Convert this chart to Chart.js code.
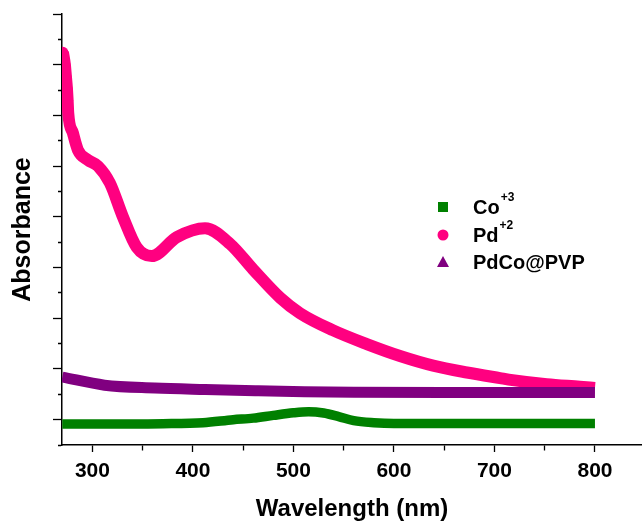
<!DOCTYPE html>
<html>
<head>
<meta charset="utf-8">
<script src="https://cdn.jsdelivr.net/npm/chart.js@4.4.0/dist/chart.umd.min.js"></script>
<style>
  html, body { margin: 0; padding: 0; background: #fff; }
  #wrap { width: 642px; height: 524px; }
</style>
</head>
<body>
<div id="wrap"><canvas id="uv"></canvas></div>
<script>
// series names (legend) and x tick labels
var seriesNames = ["Co+3", "Pd+2", "PdCo@PVP"];
var xTickLabels = [300, 400, 500, 600, 700, 800];

// Pd+2 spectrum
var pdWl  = [270.6, 272.6, 273.6, 274.6, 275.3, 275.9, 280.6, 285.6, 295.5, 305.5, 317.4, 330.3, 344, 359, 384, 412, 437, 460, 487, 506.5, 539, 573, 606, 639, 672.6, 705.5, 718, 752, 785, 800];
var pdAbs = [1.449, 1.399, 1.353, 1.307, 1.26, 1.21, 1.13, 1.063, 1.024, 1.0, 0.933, 0.80, 0.68, 0.645, 0.72, 0.755, 0.693, 0.592, 0.48, 0.42, 0.353, 0.298, 0.251, 0.213, 0.186, 0.164, 0.156, 0.140, 0.130, 0.125];

// Co+3 spectrum
var coWl  = [270, 320, 370, 410, 440, 460, 480, 500, 515, 530, 545, 560, 580, 600, 700, 800];
var coAbs = [-0.017, -0.017, -0.016, -0.012, 0.0, 0.006, 0.017, 0.027, 0.031, 0.026, 0.012, -0.004, -0.012, -0.015, -0.015, -0.015];

// PdCo@PVP spectrum
var pvpWl  = [270, 312, 362, 412, 462, 511, 560, 650, 750, 800];
var pvpAbs = [0.168, 0.136, 0.125, 0.119, 0.114, 0.110, 0.108, 0.107, 0.107, 0.107];

var FONT = "'Liberation Sans', Arial, sans-serif";

function pts(xs, ys) {
  return xs.map(function (x, i) { return { x: x, y: ys[i] }; });
}

// legend drawn inside the plot, with superscripts
var legendPlugin = {
  id: 'uvLegend',
  afterDraw: function (chart) {
    var ctx = chart.ctx;
    var ca = chart.chartArea;
    var mx = ca.left + 381, tx = ca.left + 411;
    var rows = [ca.top + 193, ca.top + 221, ca.top + 248];
    var labels = [["Co", "+3"], ["Pd", "+2"], ["PdCo@PVP", ""]];
    var colors = ["#008000", "#ff0080", "#800080"];
    ctx.save();
    // markers
    ctx.fillStyle = colors[0];
    ctx.fillRect(mx - 5, rows[0] - 5, 10, 10);
    ctx.fillStyle = colors[1];
    ctx.beginPath(); ctx.arc(mx, rows[1], 5.5, 0, Math.PI * 2); ctx.fill();
    ctx.fillStyle = colors[2];
    ctx.beginPath();
    ctx.moveTo(mx, rows[2] - 6); ctx.lineTo(mx + 6, rows[2] + 5); ctx.lineTo(mx - 6, rows[2] + 5);
    ctx.closePath(); ctx.fill();
    // text
    ctx.fillStyle = "#000";
    ctx.textBaseline = "alphabetic";
    ctx.textAlign = "left";
    for (var i = 0; i < labels.length; i++) {
      var base = rows[i] + 7;
      ctx.font = "bold 20px " + FONT;
      ctx.fillText(labels[i][0], tx, base);
      if (labels[i][1]) {
        var w = ctx.measureText(labels[i][0]).width;
        ctx.font = "bold 12px " + FONT;
        ctx.fillText(labels[i][1], tx + w + 1, base - 13);
      }
    }
    ctx.restore();
  }
};

function isMajorY(v) { return Math.round(v * 10) % 2 === 0; }

var ctxEl = document.getElementById("uv");
var uvChart = new Chart(ctxEl, {
  type: 'scatter',
  data: {
    datasets: [{
      label: seriesNames[0],
      data: pts(coWl, coAbs),
      borderColor: '#008000',
      backgroundColor: '#008000',
      showLine: true,
      borderWidth: 9.5,
      pointRadius: 0,
      cubicInterpolationMode: 'monotone',
      order: 2
    }, {
      label: seriesNames[1],
      data: pts(pdWl, pdAbs),
      borderColor: '#ff0080',
      backgroundColor: '#ff0080',
      showLine: true,
      borderWidth: 12,
      pointRadius: function (c) { return c.dataIndex < 5 ? 5.5 : 0; },
      pointBorderWidth: 0,
      cubicInterpolationMode: 'monotone',
      order: 1
    }, {
      label: seriesNames[2],
      data: pts(pvpWl, pvpAbs),
      borderColor: '#800080',
      backgroundColor: '#800080',
      showLine: true,
      borderWidth: 11,
      pointRadius: 0,
      cubicInterpolationMode: 'monotone',
      order: 0
    }]
  },
  options: {
    responsive: true,
    maintainAspectRatio: false,
    animation: false,
    layout: { autoPadding: false, padding: { top: 14, right: 0, left: 0, bottom: 0 } },
    plugins: {
      legend: { display: false },
      tooltip: { enabled: false }
    },
    scales: {
      x: {
        type: 'linear',
        min: 269.7,
        max: 846.8,
        border: { color: '#000', width: 1.5 },
        grid: {
          drawOnChartArea: false,
          tickColor: '#000',
          tickWidth: 1.3,
          tickLength: 7,
          tickBorderDash: function (c) {
            return (c.tick && c.tick.value % 100 !== 0) ? [5, 100] : [];
          }
        },
        ticks: {
          stepSize: 50,
          includeBounds: false,
          autoSkip: false,
          maxRotation: 0,
          padding: 7,
          color: '#000',
          font: { family: FONT, size: 21, weight: 'bold' },
          callback: function (v) { return xTickLabels.indexOf(v) >= 0 ? String(v) : ''; }
        },
        title: {
          display: true,
          text: 'Wavelength (nm)',
          color: '#000',
          font: { family: FONT, size: 24, weight: 'bold' },
          padding: { top: 0, bottom: 0 }
        },
        afterFit: function (s) { s.height = 79; s.paddingLeft = 0; s.paddingRight = 0; }
      },
      y: {
        type: 'linear',
        min: -0.1,
        max: 1.6,
        border: { color: '#000', width: 1.5 },
        grid: {
          drawOnChartArea: false,
          tickColor: '#000',
          tickWidth: 1.3,
          tickLength: 9,
          tickBorderDash: function (c) {
            return (c.tick && !isMajorY(c.tick.value)) ? [0, 5, 4, 100] : [];
          }
        },
        ticks: { stepSize: 0.1, display: false },
        title: {
          display: true,
          text: 'Absorbance',
          color: '#000',
          font: { family: FONT, size: 25, weight: 'bold' },
          padding: { top: 8, bottom: 0 }
        },
        afterFit: function (s) { s.width = 62; s.paddingTop = 0; s.paddingBottom = 0; }
      }
    }
  },
  plugins: [legendPlugin]
});
</script>
</body>
</html>
